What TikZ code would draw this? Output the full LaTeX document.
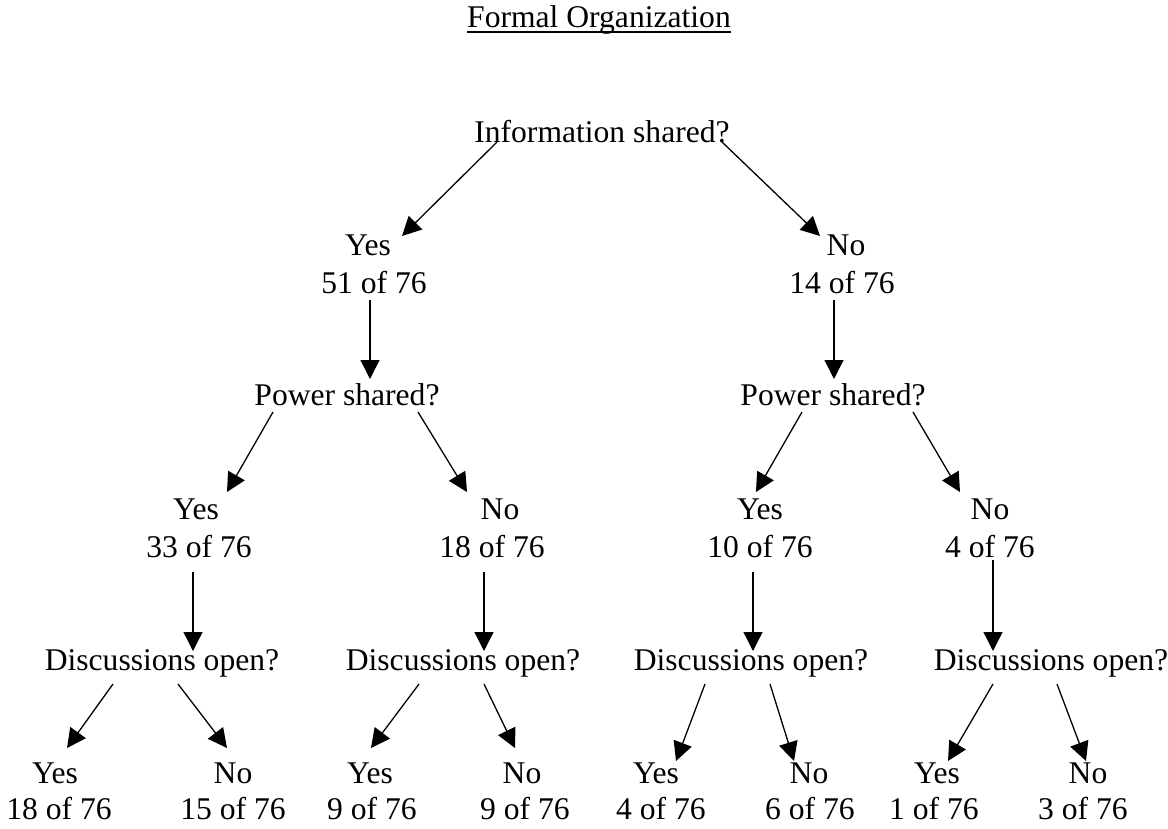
\documentclass[tikz,border=0pt]{standalone}
\usepackage{fontspec}
\setmainfont{Liberation Serif}
\usetikzlibrary{arrows.meta,calc}
\newcommand{\fz}{\fontsize{31.6}{38}\selectfont}
\begin{document}
\begin{tikzpicture}[x=1pt,y=-1pt,
  txt/.style={inner sep=0pt,anchor=base,font=\fz},
  arr/.style={line width=1.3pt,-{Triangle[length=19pt,width=19pt]}}]
\useasboundingbox (0,0) rectangle (1168,828);
% title
\node[txt] (title) at (599,27) {Formal Organization};
\draw[line width=1.5pt] ($(title.base west)+(0,5)$) -- ($(title.base east)+(0,5)$);
% level 0
\node[txt] (info) at (602,142) {Information shared?};
% level 1
\node[txt] (yes1) at (368,255) {Yes};
\node[txt] (yes1c) at (374,293) {51 of 76};
\node[txt] (no1) at (846,255) {No};
\node[txt] (no1c) at (842,293) {14 of 76};
% level 2 questions
\node[txt] (ps1) at (347,405) {Power shared?};
\node[txt] (ps2) at (833,405) {Power shared?};
% level 2 answers
\node[txt] (yes2) at (196,519) {Yes};
\node[txt] (yes2c) at (199,557) {33 of 76};
\node[txt] (no2) at (500,519) {No};
\node[txt] (no2c) at (492,557) {18 of 76};
\node[txt] (yes3) at (760,519) {Yes};
\node[txt] (yes3c) at (760,557) {10 of 76};
\node[txt] (no3) at (990,519) {No};
\node[txt] (no3c) at (990,557) {4 of 76};
% level 3 questions
\node[txt] (d1) at (162,670) {Discussions open?};
\node[txt] (d2) at (463,670) {Discussions open?};
\node[txt] (d3) at (751,670) {Discussions open?};
\node[txt] (d4) at (1051,670) {Discussions open?};
% leaves
\node[txt] (la) at (55,783) {Yes};   \node[txt] (lac) at (59,819) {18 of 76};
\node[txt] (lb) at (233,783) {No};   \node[txt] (lbc) at (233,819) {15 of 76};
\node[txt] (lc) at (370,783) {Yes};  \node[txt] (lcc) at (372,819) {9 of 76};
\node[txt] (ld) at (522,783) {No};   \node[txt] (ldc) at (525,819) {9 of 76};
\node[txt] (le) at (656,783) {Yes};  \node[txt] (lec) at (661,819) {4 of 76};
\node[txt] (lf) at (809,783) {No};   \node[txt] (lfc) at (810,819) {6 of 76};
\node[txt] (lg) at (937,783) {Yes};  \node[txt] (lgc) at (934,819) {1 of 76};
\node[txt] (lh) at (1088,783) {No};  \node[txt] (lhc) at (1083,819) {3 of 76};
% connectors
\draw[arr] ($(info.base)+(-105,0)$) -- ($(yes1.base)+(34,-19)$);
\draw[arr] ($(info.base)+(120,0)$) -- ($(no1.base)+(-26,-19)$);
\draw[arr] ($(yes1c.base)+(-4,7)$) -- ($(ps1.base)+(23,-26)$);
\draw[arr] ($(no1c.base)+(-8,7)$) -- ($(ps2.base)+(1,-26)$);
\draw[arr] ($(ps1.base)+(-74,7)$) -- ($(yes2.base)+(31,-27)$);
\draw[arr] ($(ps1.base)+(71,7)$) -- ($(no2.base)+(-33,-27)$);
\draw[arr] ($(ps2.base)+(-31,7)$) -- ($(yes3.base)+(-4,-27)$);
\draw[arr] ($(ps2.base)+(80,7)$) -- ($(no3.base)+(-30,-27)$);
\draw[arr] ($(yes2c.base)+(-6,15)$) -- ($(d1.base)+(31,-19)$);
\draw[arr] ($(no2c.base)+(-8,15)$) -- ($(d2.base)+(21,-19)$);
\draw[arr] ($(yes3c.base)+(-7,15)$) -- ($(d3.base)+(2,-19)$);
\draw[arr] ($(no3c.base)+(3,3)$) -- ($(d4.base)+(-58,-19)$);
\draw[arr] ($(d1.base)+(-49,14)$) -- ($(la.base)+(12,-35)$);
\draw[arr] ($(d1.base)+(16,14)$) -- ($(lb.base)+(-6,-35)$);
\draw[arr] ($(d2.base)+(-44,14)$) -- ($(lc.base)+(1,-35)$);
\draw[arr] ($(d2.base)+(21,14)$) -- ($(ld.base)+(-7,-35)$);
\draw[arr] ($(d3.base)+(-46,14)$) -- ($(le.base)+(20,-22)$);
\draw[arr] ($(d3.base)+(19,14)$) -- ($(lf.base)+(-15,-22)$);
\draw[arr] ($(d4.base)+(-58,14)$) -- ($(lg.base)+(11,-22)$);
\draw[arr] ($(d4.base)+(6,14)$) -- ($(lh.base)+(-2,-22)$);
\end{tikzpicture}
\end{document}
